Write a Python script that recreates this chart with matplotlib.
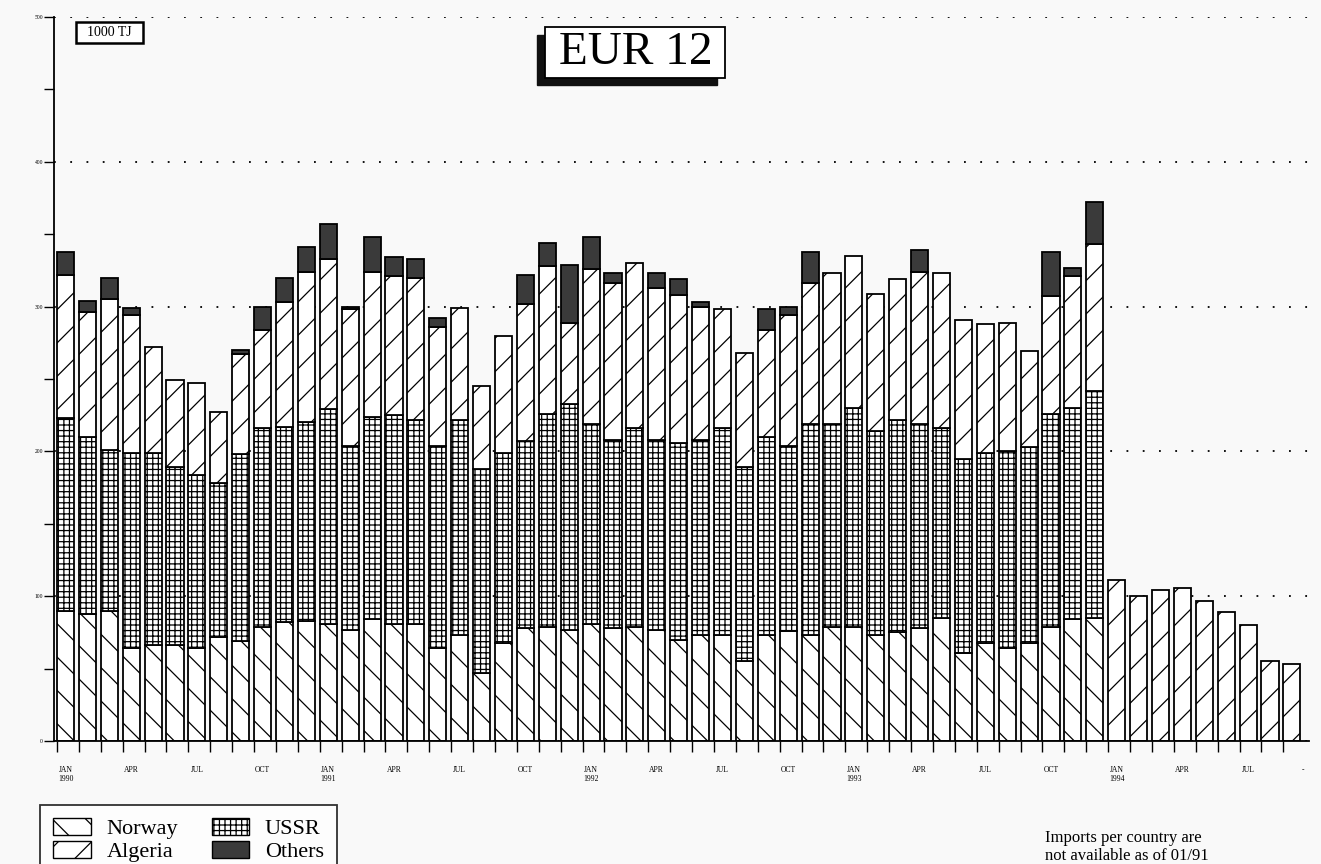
import numpy as np
import matplotlib
matplotlib.use('Agg')
import matplotlib.pyplot as plt
from matplotlib.patches import Patch, Rectangle
from matplotlib.ticker import FixedLocator, MultipleLocator

plt.rcParams['font.family'] = ['Liberation Serif', 'DejaVu Serif']
plt.rcParams['hatch.linewidth'] = 0.9

# monthly gas imports into EUR 12, 1000 TJ, Jan 1990 - Dec 1993
norway = [90, 88, 90, 64, 66, 66, 64, 72, 69, 79, 82, 83,
          81, 77, 84, 81, 81, 64, 73, 47, 68, 78, 79, 77,
          81, 78, 79, 77, 70, 73, 73, 55, 73, 76, 73, 79,
          79, 73, 75, 78, 85, 61, 68, 64, 68, 79, 84, 85]
ussr = [133, 122, 111, 135, 133, 123, 120, 106, 129, 137, 135, 137,
        148, 127, 140, 144, 141, 140, 149, 141, 131, 129, 147, 156,
        138, 130, 137, 131, 136, 135, 143, 134, 137, 128, 146, 140,
        151, 141, 147, 141, 131, 134, 131, 136, 135, 147, 146, 157]
algeria = [99, 86, 104, 95, 73, 60, 63, 49, 69, 68, 86, 104,
           104, 94, 100, 96, 98, 82, 77, 57, 81, 95, 102, 56,
           107, 108, 114, 105, 102, 92, 82, 79, 74, 90, 97, 104,
           105, 95, 97, 105, 107, 96, 89, 89, 66, 81, 91, 101]
others = [16, 8, 15, 5, 0, 0, 0, 0, 3, 16, 17, 17,
          24, 2, 24, 13, 13, 6, 0, 0, 0, 20, 16, 40,
          22, 7, 0, 10, 11, 3, 0, 0, 14, 6, 22, 0,
          0, 0, 0, 15, 0, 0, 0, 0, 0, 31, 6, 29]
# Jan - Sep 1994: only total imports available
total_1994 = [111, 100, 104, 106, 97, 89, 80, 55, 53]

tick_labels = ['JAN\n1990', 'APR', 'JUL', 'OCT', 'JAN\n1991', 'APR', 'JUL', 'OCT',
               'JAN\n1992', 'APR', 'JUL', 'OCT', 'JAN\n1993', 'APR', 'JUL', 'OCT',
               'JAN\n1994', 'APR', 'JUL', '-']

W, H = 1321, 864
fig = plt.figure(figsize=(W / 100, H / 100), dpi=100, facecolor='#f9f9f9')
ax = fig.add_axes([54 / W, 1 - 741 / H, 1255.4 / W, 724 / H])
ax.set_facecolor('none')

x = np.arange(len(norway))
x94 = np.arange(len(norway), len(norway) + len(total_1994))
nor = np.array(norway)
uss = np.array(ussr)
alg = np.array(algeria)
oth = np.array(others)

bw = 0.78
kw = dict(width=bw, edgecolor='black', linewidth=1.3, zorder=2)
ax.bar(x, nor, color='white', hatch='\\', **kw)
ax.bar(x, uss, bottom=nor, color='white', hatch='+++', **kw)
ax.bar(x, alg, bottom=nor + uss, color='white', hatch='/', **kw)
m = oth > 0
ax.bar(x[m], oth[m], bottom=(nor + uss + alg)[m], color='#3a3a3a', **kw)
ax.bar(x94, total_1994, color='white', hatch='/', **kw)

ax.set_xlim(-0.525, 56.8)
ax.set_ylim(0, 500)

# dotted reference lines
ax.yaxis.set_major_locator(MultipleLocator(100))
ax.yaxis.set_minor_locator(MultipleLocator(50))
ax.grid(axis='y', which='major', linestyle=(0, (1, 8)), color='black', linewidth=1.3, zorder=0)
ax.set_axisbelow(True)

for s in ['top', 'right']:
    ax.spines[s].set_visible(False)
ax.spines['left'].set_linewidth(1.3)
ax.spines['bottom'].set_linewidth(1.3)

ax.tick_params(axis='y', which='both', direction='out', length=7, width=1.0, labelsize=4, pad=1)

n_all = len(norway) + len(total_1994)
label_pos = list(range(0, n_all, 3)) + [n_all - 0.5]
ax.xaxis.set_major_locator(FixedLocator(label_pos))
ax.set_xticklabels(tick_labels, fontsize=5.5, linespacing=1.1)
ax.xaxis.set_minor_locator(FixedLocator(np.arange(n_all) - 0.39))
ax.tick_params(axis='x', which='major', length=0, pad=18)
ax.tick_params(axis='x', which='minor', direction='out', length=8, width=1.0)

# overlay in pixel coordinates for boxes and notes
ov = fig.add_axes([0, 0, 1, 1])
ov.set_xlim(0, W)
ov.set_ylim(H, 0)
ov.axis('off')
ov.patch.set_alpha(0)

ov.add_patch(Rectangle((537, 35), 180, 50, facecolor='#111111', edgecolor='#111111'))
ov.add_patch(Rectangle((545, 27), 180, 51, facecolor='white', edgecolor='black', linewidth=1.3))
ov.text(636, 53, 'EUR 12', fontsize=34, ha='center', va='center')

ov.add_patch(Rectangle((76, 22), 67, 21, facecolor='white', edgecolor='black', linewidth=1.8))
ov.text(109.5, 33, '1000 TJ', fontsize=10, ha='center', va='center')

ov.text(1045, 830, 'Imports per country are\nnot available as of 01/91',
        fontsize=12, ha='left', va='top', linespacing=1.2)

handles = [Patch(facecolor='white', edgecolor='black', hatch='\\', label='Norway'),
           Patch(facecolor='white', edgecolor='black', hatch='/', label='Algeria'),
           Patch(facecolor='white', edgecolor='black', hatch='+++', label='USSR'),
           Patch(facecolor='#3a3a3a', edgecolor='black', label='Others')]
leg = fig.legend(handles=handles, ncol=2, loc='upper left',
                 bbox_to_anchor=(40 / W, 1 - 805 / H), fontsize=16,
                 frameon=True, fancybox=False, edgecolor='black',
                 handlelength=1.7, handleheight=0.75, handletextpad=0.7,
                 columnspacing=1.5, labelspacing=0.1, borderpad=0.6,
                 borderaxespad=0)
leg.get_frame().set_linewidth(1.3)
leg.get_frame().set_facecolor('white')

fig.savefig('out.png', dpi=100, facecolor=fig.get_facecolor())
